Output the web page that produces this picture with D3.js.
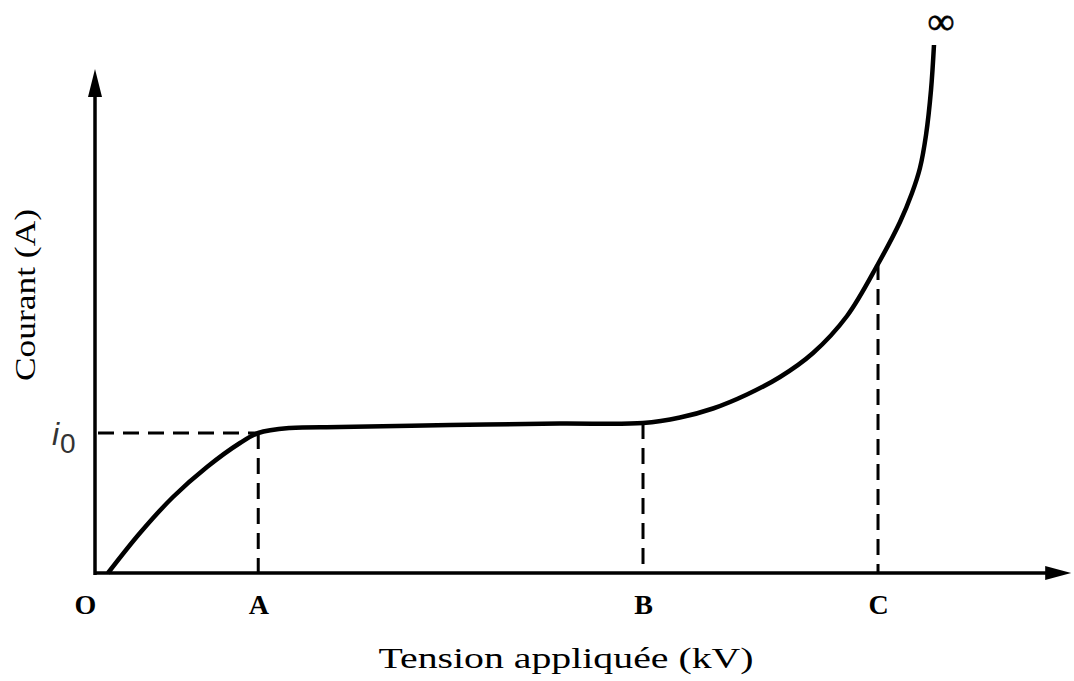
<!DOCTYPE html>
<html>
<head>
<meta charset="utf-8">
<script src="https://cdn.jsdelivr.net/npm/d3@7"></script>
<style>
  html, body { margin: 0; padding: 0; background: #fff; }
  svg { display: block; }
  .serif { font-family: "Liberation Serif", "Times New Roman", Times, serif; }
  .sans { font-family: "Liberation Sans", Arial, Helvetica, sans-serif; }
</style>
</head>
<body>
<svg id="chart" width="1074" height="681"></svg>
<script>
// ---- data ----
const voltage = [1.25, 4.58, 8.02, 11.56, 15.0, 16.9, 20.2, 25.4, 36.9, 48.3, 56.98, 60.83, 64.27, 67.81, 71.25, 74.69, 78.23, 81.46, 83.75, 85.0, 85.83, 86.46, 86.98, 87.29];
const current = [0, 8, 15.2, 21.2, 26, 28, 29, 29.2, 29.6, 29.9, 30.0, 31.1, 32.9, 35.7, 39.2, 44.0, 51.4, 61.8, 70.2, 76.0, 81.0, 87.6, 96.6, 105.6];
const xTickLabels = ["O", "A", "B", "C"];
const xTickValues = [0, 16.9, 56.98, 81.46];
const xTickCurrents = [0, 28, 30.0, 61.8];   // height of the curve at A, B, C
const i0Value = 28;
const xTitle = "Tension appliquée (kV)";
const yTitle = "Courant (A)";

// ---- layout ----
const svg = d3.select("#chart");
const x = d3.scaleLinear().domain([0, 100]).range([96, 1056]);
const y = d3.scaleLinear().domain([0, 100]).range([573, 73]);

const ink = "#000";

// axes lines with arrowheads
const x0 = x(0), y0 = y(0);
svg.append("line").attr("x1", x0 - 2).attr("y1", y0).attr("x2", x(99.5)).attr("y2", y0)
  .attr("stroke", ink).attr("stroke-width", 3.5);
svg.append("path")
  .attr("d", `M${x(99.5) - 6},${y0 - 7} L${x(99.5) + 20},${y0} L${x(99.5) - 6},${y0 + 7} Z`)
  .attr("fill", ink);
svg.append("line").attr("x1", x0 - 1).attr("y1", y0 + 2).attr("x2", x0 - 1).attr("y2", y(96))
  .attr("stroke", ink).attr("stroke-width", 3.5);
svg.append("path")
  .attr("d", `M${x0 - 8},${y(96) + 4} L${x0 - 1},${y(100) - 4} L${x0 + 6},${y(96) + 4} Z`)
  .attr("fill", ink);

// dashed guides
const dash = "16,9";
svg.append("line")
  .attr("x1", x0 + 2).attr("y1", y(i0Value))
  .attr("x2", x(xTickValues[1])).attr("y2", y(i0Value))
  .attr("stroke", ink).attr("stroke-width", 3).attr("stroke-dasharray", dash);
xTickValues.slice(1).forEach((v, i) => {
  svg.append("line")
    .attr("x1", x(v)).attr("y1", y(xTickCurrents[i + 1]))
    .attr("x2", x(v)).attr("y2", y0)
    .attr("stroke", ink).attr("stroke-width", 3).attr("stroke-dasharray", dash);
});

// curve
const pts = voltage.map((v, i) => [v, current[i]]);
const line = d3.line().x(d => x(d[0])).y(d => y(d[1])).curve(d3.curveCatmullRom.alpha(0.5));
svg.append("path").datum(pts).attr("d", line)
  .attr("fill", "none").attr("stroke", ink).attr("stroke-width", 4.5)
  .attr("stroke-linecap", "butt").attr("stroke-linejoin", "round");

// x tick labels via axis
const xAxis = d3.axisBottom(x).tickValues(xTickValues)
  .tickFormat((d, i) => xTickLabels[i]).tickSize(0).tickPadding(21);
const gx = svg.append("g").attr("transform", `translate(0,${y0})`).call(xAxis);
gx.select(".domain").remove();
gx.attr("font-family", null).attr("font-size", null);
gx.selectAll("text")
  .attr("class", "serif")
  .style("font-weight", "bold").style("font-size", "28px").attr("fill", ink)
  .attr("dx", (d, i) => i === 0 ? -11 : 0);

// i0 label
const i0 = svg.append("text")
  .attr("class", "sans")
  .attr("x", 52).attr("y", y(i0Value) + 12)
  .attr("fill", "#333");
i0.append("tspan").style("font-style", "italic").style("font-size", "32px").text("i");
i0.append("tspan").style("font-size", "28px").attr("dy", 8).attr("dx", 1).text("0");

// titles
svg.append("text")
  .attr("class", "serif")
  .attr("x", 566).attr("y", 668).attr("text-anchor", "middle")
  .style("font-size", "30px").attr("fill", ink)
  .attr("textLength", 375).attr("lengthAdjust", "spacingAndGlyphs")
  .text(xTitle);
svg.append("text")
  .attr("class", "serif")
  .attr("transform", "translate(35,295) rotate(-90)")
  .attr("text-anchor", "middle")
  .style("font-size", "30px").attr("fill", ink)
  .attr("textLength", 172).attr("lengthAdjust", "spacingAndGlyphs")
  .text(yTitle);

// infinity symbol at the top of the curve
svg.append("text")
  .attr("class", "serif")
  .attr("x", 941).attr("y", 34).attr("text-anchor", "middle")
  .style("font-size", "38px").attr("fill", ink)
  .attr("stroke", ink).attr("stroke-width", 0.6)
  .text("∞");
</script>
</body>
</html>
